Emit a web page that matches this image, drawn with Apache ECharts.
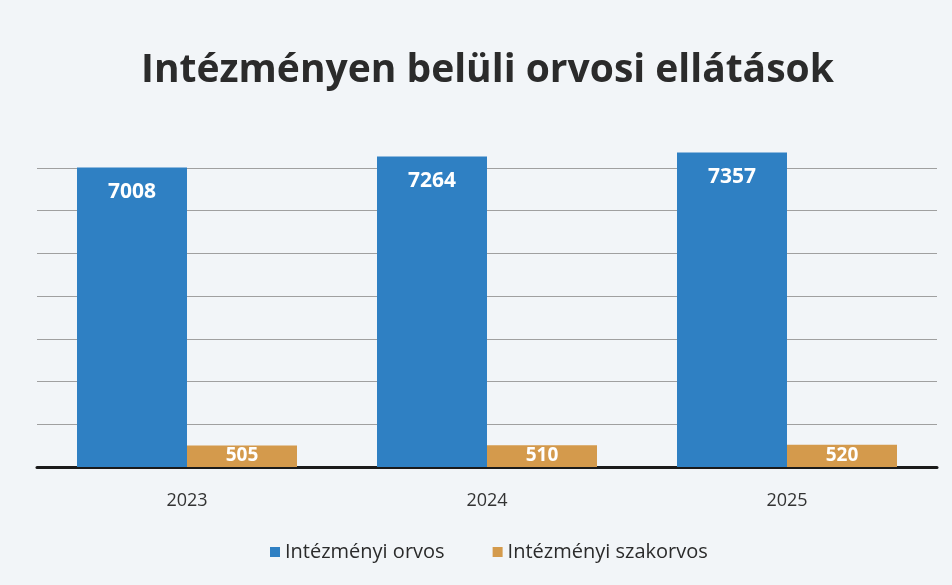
<!DOCTYPE html>
<html>
<head>
<meta charset="utf-8">
<script src="https://cdn.jsdelivr.net/npm/echarts@6/dist/echarts.min.js"></script>
<style>
  html, body { margin: 0; padding: 0; background: #f2f5f8; }
  #chart { width: 952px; height: 585px; }
</style>
</head>
<body>
<div id="chart"></div>
<script>
// chart data
var years = ['2023', '2024', '2025'];
var orvos = [7008, 7264, 7357];
var szakorvos = [505, 510, 520];

var chart = echarts.init(document.getElementById('chart'));

var labelStyle = {
  show: true,
  position: 'insideTop',
  distance: 14,
  color: '#ffffff',
  fontSize: 21,
  fontWeight: 'bold',
  fontFamily: 'Open Sans'
};

// top split line (8000) is not drawn in the original
var gridColors = ['#a0a0a0', '#a0a0a0', '#a0a0a0', '#a0a0a0', '#a0a0a0',
  '#a0a0a0', '#a0a0a0', '#a0a0a0', 'rgba(0,0,0,0)'];

chart.setOption({
  backgroundColor: '#f2f5f8',
  title: {
    text: 'Intézményen belüli orvosi ellátások',
    left: 136,
    top: 46,
    textStyle: {
      fontFamily: 'Open Sans',
      fontSize: 39,
      fontWeight: 'bold',
      color: '#2b2b2b'
    }
  },
  grid: { left: 37, right: 15, top: 125, bottom: 118 },
  xAxis: {
    type: 'category',
    data: years,
    axisTick: { show: false },
    axisLine: { lineStyle: { color: '#1a1a1a', width: 3 } },
    axisLabel: { color: '#333', fontSize: 18, fontFamily: 'Open Sans', margin: 25 }
  },
  yAxis: {
    type: 'value',
    min: 0,
    max: 8000,
    interval: 1000,
    axisLabel: { show: false },
    axisLine: { show: false },
    splitLine: { lineStyle: { color: gridColors, width: 1 } }
  },
  legend: {
    bottom: 18,
    left: 265,
    itemWidth: 10,
    itemHeight: 10,
    itemGap: 48,
    icon: 'rect',
    textStyle: { color: '#2b2b2b', fontSize: 20, fontFamily: 'Open Sans' }
  },
  series: [
    {
      name: 'Intézményi orvos',
      type: 'bar',
      data: orvos,
      barWidth: 110,
      barGap: '0%',
      itemStyle: { color: '#2f80c3' },
      label: labelStyle
    },
    {
      name: 'Intézményi szakorvos',
      type: 'bar',
      data: szakorvos,
      barWidth: 110,
      itemStyle: { color: '#d49a4c' },
      label: Object.assign({}, labelStyle, { distance: 1, fontSize: 19 })
    }
  ]
});
</script>
</body>
</html>
